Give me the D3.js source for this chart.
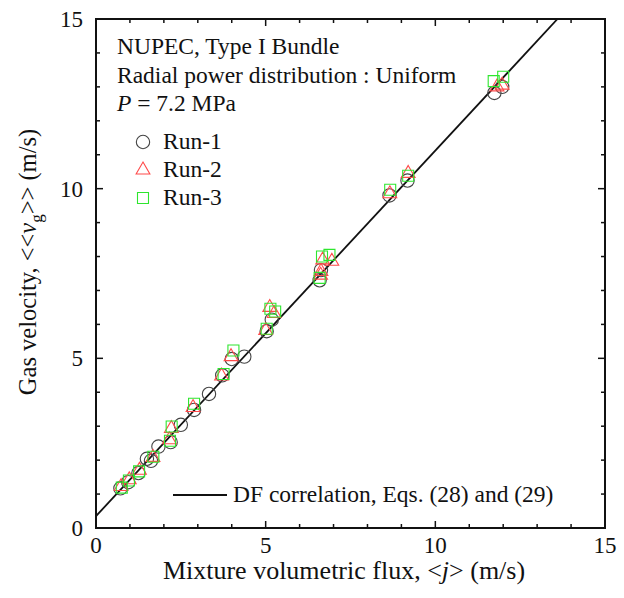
<!DOCTYPE html>
<html>
<head>
<meta charset="utf-8">
<script src="https://cdn.jsdelivr.net/npm/d3@7"></script>
<style>
  body { margin: 0; background: #fff; }
  text { font-family: "Liberation Serif", "Times New Roman", serif; fill: #111; }
</style>
</head>
<body>
<svg id="chart" width="624" height="598"></svg>
<script>
// Run-1 (circles)
const run1J = [0.72, 0.95, 1.25, 1.50, 1.62, 1.84, 2.20, 2.50, 2.89, 3.33, 3.72, 4.00, 4.37, 5.03, 5.18, 6.59, 6.63, 8.65, 9.18, 11.74, 11.97];
const run1Vg = [1.17, 1.35, 1.62, 2.04, 1.98, 2.40, 2.53, 3.04, 3.48, 3.95, 4.50, 4.98, 5.05, 5.80, 6.14, 7.30, 7.60, 9.80, 10.24, 12.82, 13.00];
// Run-2 (triangles)
const run2J = [0.74, 0.98, 1.28, 1.68, 2.16, 2.22, 2.86, 3.70, 3.98, 5.00, 5.12, 5.25, 6.62, 6.63, 6.68, 6.95, 8.66, 9.20, 11.82, 11.97];
const run2Vg = [1.22, 1.42, 1.70, 2.08, 2.60, 2.93, 3.55, 4.48, 5.05, 5.82, 6.50, 6.32, 7.45, 7.56, 7.90, 7.86, 9.85, 10.45, 13.00, 13.05];
// Run-3 (squares)
const run3J = [0.76, 0.97, 1.27, 1.69, 2.18, 2.23, 2.89, 3.76, 4.05, 5.03, 5.14, 5.28, 6.59, 6.66, 6.88, 8.67, 9.20, 11.72, 12.00];
const run3Vg = [1.19, 1.40, 1.67, 2.10, 2.57, 2.99, 3.66, 4.54, 5.23, 5.87, 6.46, 6.38, 7.37, 8.00, 8.05, 9.97, 10.38, 13.17, 13.30];
// DF correlation line
const dfJ = [0, 13.6];
const dfVg = [0.35, 15];

const majorTicks = [0, 5, 10, 15];
const minorTicks = d3.range(0, 16, 1);

const infoLines = ["NUPEC, Type I Bundle", "Radial power distribution : Uniform"];

const svg = d3.select("#chart");
const plotL = 96, plotR = 605, plotT = 19, plotB = 528;

const x = d3.scaleLinear().domain([0, 15]).range([plotL, plotR]);
const y = d3.scaleLinear().domain([0, 15]).range([plotB, plotT]);

svg.append("defs").append("clipPath").attr("id", "clip")
  .append("rect").attr("x", plotL).attr("y", plotT)
  .attr("width", plotR - plotL).attr("height", plotB - plotT);

// ticks (inward, all four sides)
const tickG = svg.append("g").attr("stroke", "#111").attr("stroke-width", 1.5);
minorTicks.forEach((t) => {
  const len = majorTicks.includes(t) ? 7 : 4;
  tickG.append("line").attr("x1", x(t)).attr("x2", x(t)).attr("y1", plotB).attr("y2", plotB - len);
  tickG.append("line").attr("x1", x(t)).attr("x2", x(t)).attr("y1", plotT).attr("y2", plotT + len);
  tickG.append("line").attr("y1", y(t)).attr("y2", y(t)).attr("x1", plotL).attr("x2", plotL + len);
  tickG.append("line").attr("y1", y(t)).attr("y2", y(t)).attr("x1", plotR).attr("x2", plotR - len);
});

svg.append("rect")
  .attr("x", plotL).attr("y", plotT)
  .attr("width", plotR - plotL).attr("height", plotB - plotT)
  .attr("fill", "none").attr("stroke", "#111").attr("stroke-width", 2);

// tick labels
svg.append("g").selectAll("text").data(majorTicks).join("text")
  .attr("x", (d) => x(d)).attr("y", 553)
  .attr("text-anchor", "middle").attr("font-size", 23)
  .text((d) => d);
svg.append("g").selectAll("text").data(majorTicks).join("text")
  .attr("x", 83).attr("y", (d) => y(d) + 8)
  .attr("text-anchor", "end").attr("font-size", 23)
  .text((d) => d);

// axis titles
const xt = svg.append("text").attr("x", 344).attr("y", 579)
  .attr("text-anchor", "middle").attr("font-size", 26);
xt.append("tspan").text("Mixture volumetric flux, <");
xt.append("tspan").attr("font-style", "italic").text("j");
xt.append("tspan").text("> (m/s)");

const yt = svg.append("text")
  .attr("transform", "translate(36,262) rotate(-90)")
  .attr("text-anchor", "middle").attr("font-size", 24.5);
yt.append("tspan").text("Gas velocity, <<");
yt.append("tspan").attr("font-style", "italic").text("v");
yt.append("tspan").attr("font-size", 17).attr("dy", 6).text("g");
yt.append("tspan").attr("dy", -6).text(">> (m/s)");

// DF correlation line
const line = d3.line().x((d) => x(d[0])).y((d) => y(d[1]));
svg.append("path")
  .attr("clip-path", "url(#clip)")
  .attr("d", line(d3.zip(dfJ, dfVg)))
  .attr("fill", "none").attr("stroke", "#111").attr("stroke-width", 1.8);

// markers
const circle = d3.symbol().type(d3.symbolCircle).size(140);
const tri = d3.symbol().type(d3.symbolTriangle).size(82);
const square = d3.symbol().type(d3.symbolSquare).size(121);

function drawRun(js, vs, sym, color) {
  svg.append("g").selectAll("path").data(d3.zip(js, vs)).join("path")
    .attr("transform", (d) => `translate(${x(d[0])},${y(d[1])})`)
    .attr("d", sym)
    .attr("fill", "none").attr("stroke", color).attr("stroke-width", 1.1);
}
drawRun(run1J, run1Vg, circle, "#444");
drawRun(run2J, run2Vg, tri, "#ff4a4a");
drawRun(run3J, run3Vg, square, "#2ee62e");

// info text
infoLines.forEach((s, i) => {
  svg.append("text").attr("x", 117).attr("y", 54 + i * 28.5)
    .attr("font-size", 23.5).text(s);
});
const pt = svg.append("text").attr("x", 117).attr("y", 111).attr("font-size", 23.5);
pt.append("tspan").attr("font-style", "italic").text("P");
pt.append("tspan").text(" = 7.2 MPa");

// legend
const legend = [
  { name: "Run-1", sym: circle, color: "#444" },
  { name: "Run-2", sym: tri, color: "#ff4a4a" },
  { name: "Run-3", sym: square, color: "#2ee62e" },
];
legend.forEach((d, i) => {
  const yy = 149 + i * 28;
  svg.append("path")
    .attr("transform", `translate(143,${yy - 7})`)
    .attr("d", d.sym)
    .attr("fill", "none").attr("stroke", d.color).attr("stroke-width", 1.1);
  svg.append("text").attr("x", 163).attr("y", yy).attr("font-size", 23.5).text(d.name);
});

svg.append("line").attr("x1", 173).attr("x2", 227).attr("y1", 495).attr("y2", 495)
  .attr("stroke", "#111").attr("stroke-width", 1.8);
svg.append("text").attr("x", 233).attr("y", 502).attr("font-size", 23.5)
  .text("DF correlation, Eqs. (28) and (29)");
</script>
</body>
</html>
